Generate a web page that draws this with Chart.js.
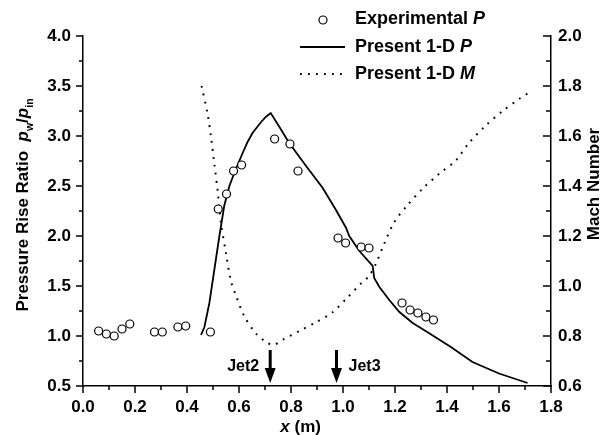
<!DOCTYPE html>
<html lang="en">
<head>
<meta charset="UTF-8">
<title>Pressure rise ratio</title>
<script src="https://cdn.jsdelivr.net/npm/chart.js@4.4.0/dist/chart.umd.min.js"></script>
<style>
  html, body { margin: 0; padding: 0; background: #fff; }
  #wrap { width: 608px; height: 435px; }
</style>
</head>
<body>
<div id="wrap"><canvas id="myChart"></canvas></div>
<script>
// experimental wall pressure
var expX = [0.06, 0.09, 0.12, 0.15, 0.18, 0.275, 0.305, 0.365, 0.395, 0.49,
            0.52, 0.552, 0.579, 0.61, 0.737, 0.796, 0.827, 0.981, 1.01, 1.07, 1.10,
            1.227, 1.258, 1.288, 1.319, 1.348];
var expP = [1.05, 1.02, 1.00, 1.07, 1.12, 1.04, 1.04, 1.09, 1.10, 1.04,
            2.27, 2.42, 2.65, 2.71, 2.97, 2.92, 2.65, 1.98, 1.93, 1.89, 1.88,
            1.33, 1.26, 1.23, 1.19, 1.16];

// present 1-D model, pressure
var modelX = [0.454, 0.467, 0.486, 0.505, 0.524, 0.543, 0.563, 0.588, 0.614, 0.633, 0.652, 0.67, 0.685, 0.703, 0.722,
              0.758, 0.793, 0.858, 0.922, 0.973, 1.012, 1.024, 1.063, 1.114, 1.12, 1.14, 1.178, 1.217,
              1.268, 1.33, 1.415, 1.498, 1.60, 1.71];
var modelP = [1.01, 1.09, 1.33, 1.66, 1.99, 2.30, 2.50, 2.67, 2.83, 2.94, 3.03, 3.09, 3.14, 3.19, 3.23,
              3.08, 2.93, 2.70, 2.48, 2.26, 2.08, 2.00, 1.85, 1.70, 1.58, 1.49, 1.36, 1.24,
              1.13, 1.03, 0.89, 0.74, 0.625, 0.53];

// present 1-D model, Mach number
var machX = [0.456, 0.479, 0.492, 0.505, 0.518, 0.531, 0.55, 0.569, 0.589, 0.62, 0.665, 0.71, 0.735,
             0.768, 0.832, 0.896, 0.96, 1.018, 1.069, 1.10, 1.127, 1.159, 1.197, 1.245, 1.307,
             1.371, 1.432, 1.483, 1.547, 1.614, 1.68, 1.71];
var machM = [1.80, 1.69, 1.60, 1.49, 1.38, 1.25, 1.13, 1.02, 0.96, 0.88, 0.81, 0.772, 0.765,
             0.785, 0.82, 0.855, 0.895, 0.955, 1.01, 1.04, 1.09, 1.17, 1.255, 1.32, 1.39,
             1.45, 1.50, 1.57, 1.64, 1.70, 1.75, 1.77];

var jetX = [0.72, 0.975];
var jetLabels = ['Jet2', 'Jet3'];

var xTicks = [0, 0.2, 0.4, 0.6, 0.8, 1.0, 1.2, 1.4, 1.6, 1.8];
var pTicks = [0.5, 1.0, 1.5, 2.0, 2.5, 3.0, 3.5, 4.0];
var machTicks = [0.6, 0.8, 1.0, 1.2, 1.4, 1.6, 1.8, 2.0];

var FONT = '"Liberation Sans", Arial, sans-serif';

function pts(xs, ys) {
    return xs.map(function (x, i) { return { x: x, y: ys[i] }; });
}

function setTicks(list) {
    return function (scale) {
        scale.ticks = list.map(function (v) { return { value: v }; });
    };
}

// draws text pieces one after the other (italic, subscripts)
function richText(ctx, parts, x, y, size) {
    parts.forEach(function (p) {
        var s = p.sub ? size * 0.62 : size;
        ctx.font = (p.it ? 'italic ' : '') + 'bold ' + s + 'px ' + FONT;
        ctx.fillText(p.t, x, y + (p.sub ? size * 0.28 : 0));
        x += ctx.measureText(p.t).width;
    });
    return x;
}
function richWidth(ctx, parts, size) {
    var w = 0;
    parts.forEach(function (p) {
        var s = p.sub ? size * 0.62 : size;
        ctx.font = (p.it ? 'italic ' : '') + 'bold ' + s + 'px ' + FONT;
        w += ctx.measureText(p.t).width;
    });
    return w;
}

var extras = {
    id: 'extras',
    afterDraw: function (chart) {
        var ctx = chart.ctx;
        var a = chart.chartArea;
        var sx = chart.scales.x, sy = chart.scales.y, sm = chart.scales.y1;
        ctx.save();
        ctx.strokeStyle = '#000';
        ctx.fillStyle = '#000';
        ctx.lineWidth = 1.5;

        // tick marks (major + minor)
        var i, v, p;
        ctx.beginPath();
        for (i = 0; i <= 18; i++) {
            v = i / 10;
            p = sx.getPixelForValue(v);
            ctx.moveTo(p, a.bottom);
            ctx.lineTo(p, a.bottom + (i % 2 === 0 ? 7 : 4));
        }
        for (i = 0; i <= 14; i++) {
            v = 0.5 + i * 0.25;
            p = sy.getPixelForValue(v);
            ctx.moveTo(a.left, p);
            ctx.lineTo(a.left - (i % 2 === 0 ? 7 : 4), p);
        }
        for (i = 0; i <= 14; i++) {
            v = 0.6 + i * 0.1;
            p = sm.getPixelForValue(v);
            ctx.moveTo(a.right, p);
            ctx.lineTo(a.right - (i % 2 === 0 ? 8 : 5), p);
        }
        ctx.stroke();

        // jet arrows
        ctx.textBaseline = 'middle';
        ctx.font = 'bold 16px ' + FONT;
        jetX.forEach(function (jx, k) {
            var px = sx.getPixelForValue(jx);
            var top = sy.getPixelForValue(0.86);
            var tip = sy.getPixelForValue(0.53);
            ctx.fillRect(px - 1.5, top, 3, tip - top - 12);
            ctx.beginPath();
            ctx.moveTo(px - 5.5, tip - 15);
            ctx.lineTo(px + 5.5, tip - 15);
            ctx.lineTo(px, tip);
            ctx.closePath();
            ctx.fill();
            var ty = sy.getPixelForValue(0.69);
            if (k === 0) {
                ctx.textAlign = 'right';
                ctx.fillText(jetLabels[k], px - 11, ty);
            } else {
                ctx.textAlign = 'left';
                ctx.fillText(jetLabels[k], px + 12, ty);
            }
        });

        // legend
        ctx.textAlign = 'left';
        var lx = a.left + 217, tx = a.left + 272;
        var rows = [a.top - 17, a.top + 11, a.top + 38];
        ctx.lineWidth = 1.2;
        ctx.beginPath();
        ctx.arc(lx + 23, rows[0] + 1, 4, 0, Math.PI * 2);
        ctx.fillStyle = '#fff';
        ctx.fill();
        ctx.stroke();
        ctx.fillStyle = '#000';
        ctx.lineWidth = 1.8;
        ctx.beginPath();
        ctx.moveTo(lx, rows[1]);
        ctx.lineTo(lx + 45, rows[1]);
        ctx.stroke();
        ctx.lineWidth = 2;
        ctx.setLineDash([1.8, 6.2]);
        ctx.beginPath();
        ctx.moveTo(lx, rows[2]);
        ctx.lineTo(lx + 45, rows[2]);
        ctx.stroke();
        ctx.setLineDash([]);
        richText(ctx, [{ t: 'Experimental ' }, { t: 'P', it: true }], tx, rows[0], 18);
        richText(ctx, [{ t: 'Present 1-D ' }, { t: 'P', it: true }], tx, rows[1], 18);
        richText(ctx, [{ t: 'Present 1-D ' }, { t: 'M', it: true }], tx, rows[2], 18);

        // x title
        ctx.textBaseline = 'alphabetic';
        var xt = [{ t: 'x', it: true }, { t: ' (m)' }];
        var cx = a.left + a.width * 0.465;
        richText(ctx, xt, cx - richWidth(ctx, xt, 17) / 2, a.bottom + 46, 17);

        // left title
        var lt = [{ t: 'Pressure Rise Ratio  ' }, { t: 'p', it: true }, { t: 'w', sub: true },
                  { t: '/' }, { t: 'p', it: true }, { t: 'in', sub: true }];
        ctx.save();
        ctx.translate(28, (a.top + a.bottom) / 2 - 6);
        ctx.rotate(-Math.PI / 2);
        richText(ctx, lt, -richWidth(ctx, lt, 17) / 2, 0, 17);
        ctx.restore();

        // right title
        var rt = [{ t: 'Mach Number' }];
        ctx.save();
        ctx.translate(599, 184);
        ctx.rotate(-Math.PI / 2);
        richText(ctx, rt, -richWidth(ctx, rt, 17) / 2, 0, 17);
        ctx.restore();

        ctx.restore();
    }
};

var tickFont = { family: FONT, size: 17, weight: 'bold' };

var config = {
    type: 'scatter',
    data: {
        datasets: [{
            label: 'Experimental P',
            data: pts(expX, expP),
            yAxisID: 'y',
            showLine: false,
            pointStyle: 'circle',
            pointRadius: 4,
            pointBorderWidth: 1.2,
            pointBorderColor: '#000',
            pointBackgroundColor: '#fff',
            order: 0
        }, {
            label: 'Present 1-D P',
            data: pts(modelX, modelP),
            yAxisID: 'y',
            showLine: true,
            borderColor: '#000',
            borderWidth: 1.8,
            pointRadius: 0,
            tension: 0,
            order: 1
        }, {
            label: 'Present 1-D M',
            data: pts(machX, machM),
            yAxisID: 'y1',
            showLine: true,
            borderColor: '#000',
            borderWidth: 2,
            borderDash: [1.8, 6.2],
            pointRadius: 0,
            tension: 0.3,
            order: 2
        }]
    },
    options: {
        responsive: true,
        maintainAspectRatio: false,
        animation: false,
        layout: { padding: { top: 36, left: 0, right: 0, bottom: 0 } },
        plugins: {
            legend: { display: false },
            tooltip: { enabled: false }
        },
        scales: {
            x: {
                type: 'linear',
                min: 0, max: 1.8,
                afterBuildTicks: setTicks(xTicks),
                afterFit: function (s) { s.height = 49; },
                grid: { drawOnChartArea: false, drawTicks: false },
                border: { color: '#000', width: 1.5 },
                ticks: {
                    color: '#000', font: tickFont, padding: 11,
                    maxRotation: 0,
                    callback: function (v) { return v.toFixed(1); }
                }
            },
            y: {
                position: 'left',
                min: 0.5, max: 4.0,
                afterBuildTicks: setTicks(pTicks),
                afterFit: function (s) { s.width = 83; },
                grid: { drawOnChartArea: false, drawTicks: false },
                border: { color: '#000', width: 1.5 },
                ticks: {
                    color: '#000', font: tickFont, padding: 12,
                    callback: function (v) { return v.toFixed(1); }
                }
            },
            y1: {
                position: 'right',
                min: 0.6, max: 2.0,
                afterBuildTicks: setTicks(machTicks),
                afterFit: function (s) { s.width = 57; },
                grid: { drawOnChartArea: false, drawTicks: false },
                border: { color: '#000', width: 1.5 },
                ticks: {
                    color: '#000', font: tickFont, padding: 7,
                    callback: function (v) { return v.toFixed(1); }
                }
            }
        }
    },
    plugins: [extras]
};

var ctx = document.getElementById('myChart').getContext('2d');
var chart = new Chart(ctx, config);
</script>
</body>
</html>
